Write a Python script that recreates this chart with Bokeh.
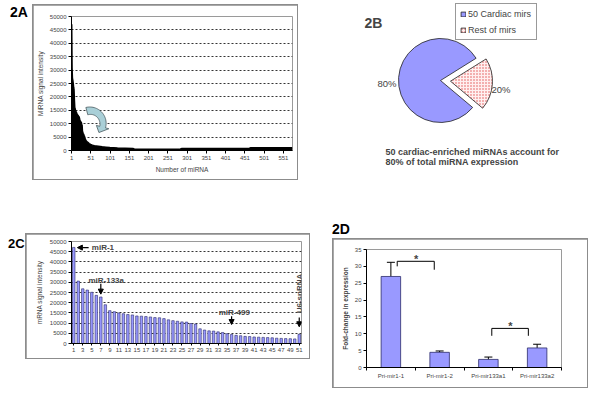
import numpy as np
from bokeh.plotting import figure
from bokeh.layouts import column, row
from bokeh.models import (Range1d, FixedTicker, Div, Spacer, Label, Arrow, NormalHead,
                          Whisker, TeeHead, ColumnDataSource, Legend, LegendItem)
from bokeh.embed import file_html
from bokeh.resources import INLINE

FONT = "Liberation Sans"
BAR_FILL = "#9999FF"
BAR_LINE = "#2B2B6B"

# ---------------- data ----------------
# 2C: top 50 cardiac miRNAs (rank 1..50) + U6-snRNA (51)
c_rank = list(range(1, 52))
c_signal = [47100, 30600, 26800, 26200, 25100, 23600, 22800, 19000, 16100, 15600,
            15000, 14600, 14200, 14000, 13500, 13400, 13200, 13000, 12700, 12600,
            12200, 11600, 11200, 10900, 10600, 10500, 9800, 9500, 7200, 6600,
            6200, 6100, 5700, 5400, 4800, 4400, 4000, 3800, 3500, 3400,
            3200, 3100, 3000, 2900, 2800, 2600, 2500, 2400, 2350, 2250, 4500]
c_ticks = list(range(1, 52, 2))

# 2A: all miRNAs ranked (first 50 as in 2C, then the long tail)
a_tail_rank = [55, 60, 70, 80, 90, 100, 120, 140, 160, 166, 280, 286, 460, 466, 574]
a_tail_signal = [2000, 1800, 1600, 1400, 1250, 1100, 950, 850, 750, 420, 420, 700, 700, 1000, 1000]
a_ticks = list(range(1, 552, 50))

# 2B
b_labels = ["50 Cardiac mirs", "Rest of mirs"]
b_share = [80, 20]

# 2D
d_labels = ["Pri-mir1-1", "Pri-mir1-2", "Pri-mir133a1", "Pri-mir133a2"]
d_fold = [27.0, 4.5, 2.4, 5.8]
d_err = [4.2, 0.4, 0.7, 1.1]


def style_axes(p, tick_font="6px"):
    for ax in p.axis:
        ax.axis_line_color = "black"
        ax.major_tick_line_color = "black"
        ax.major_tick_out = 3
        ax.major_tick_in = 0
        ax.minor_tick_line_color = None
        ax.major_label_text_font = FONT
        ax.major_label_text_font_size = tick_font
        ax.major_label_standoff = 2
        ax.axis_label_text_font = FONT
        ax.axis_label_text_font_style = "normal"
        ax.axis_label_text_font_size = "6.5px"
        ax.axis_label_standoff = 3


def boxed(p):
    # 1px grey frame around a chart: the figure sits with a 1px margin on a grey background
    p.margin = (1, 1, 1, 1)
    return column(p, spacing=0, margin=0, styles={"background-color": "#8C8C8C"})


def label_div(txt, w, h, pad_left, pad_top, size=14):
    html = ('<div style="padding-left:%dpx;padding-top:%dpx;font-family:\'Liberation Sans\',Arial;'
            'font-weight:bold;font-size:%dpx;line-height:%dpx;color:black;white-space:nowrap;">%s</div>'
            % (pad_left, pad_top, size, size, txt))
    return Div(text=html, width=w, height=h, margin=0)


# ---------------- 2A ----------------
pA = figure(width=264, height=174, x_range=Range1d(0.5, 574.5), y_range=Range1d(0, 50000),
            output_backend="svg", toolbar_location=None,
            min_border_left=36, min_border_right=5, min_border_top=11, min_border_bottom=29)
a_rank = c_rank[:50] + a_tail_rank
a_signal = c_signal[:50] + a_tail_signal
pA.varea(x=a_rank, y1=0, y2=a_signal, fill_color="black")
pA.line(x=a_rank, y=a_signal, line_color="black", line_width=1.5)
pA.xaxis.ticker = FixedTicker(ticks=a_ticks)
pA.yaxis.ticker = FixedTicker(ticks=list(range(0, 50001, 5000)))
pA.xaxis.axis_label = "Number of miRNA"
pA.yaxis.axis_label = "MiRNA signal intensity"
style_axes(pA)
pA.xgrid.visible = False
pA.ygrid.grid_line_color = "black"
pA.ygrid.grid_line_dash = "2 2"
pA.ygrid.grid_line_width = 0.8
pA.outline_line_color = "#9A9A9A"

# curved decorative arrow (pixel geometry converted to data units)
sx = (574.5 - 0.5) / 223.0
sy = 50000 / 134.0
acx, acy = 49.0, 10000.0
r0 = 13.0
th = np.radians(np.linspace(105, -15, 30))
hw = np.linspace(3.8, 3.0, 30)
outer_x = (r0 + hw) * np.cos(th)
outer_y = (r0 + hw) * np.sin(th)
inner_x = (r0 - hw) * np.cos(th)
inner_y = (r0 - hw) * np.sin(th)
tb = np.radians(-15)
tt = np.radians(-45)
head_x = [(r0 + 6.5) * np.cos(tb), (r0 - 0.5) * np.cos(tt), (r0 - 6.5) * np.cos(tb)]
head_y = [(r0 + 6.5) * np.sin(tb), (r0 - 0.5) * np.sin(tt), (r0 - 6.5) * np.sin(tb)]
px_ = np.concatenate([outer_x, head_x, inner_x[::-1]])
py_ = np.concatenate([outer_y, head_y, inner_y[::-1]])
pA.patch(x=acx + px_ * sx, y=acy + py_ * sy, fill_color="#A9CFD7", line_color="#4A5A60", line_width=0.8)

# ---------------- 2B ----------------
pB = figure(width=286, height=192, x_range=Range1d(0, 286), y_range=Range1d(0, 192),
            output_backend="svg", toolbar_location=None, x_axis_type=None, y_axis_type=None,
            min_border=0, margin=0)
pB.grid.visible = False
pB.outline_line_color = None
total = float(sum(b_share))
small = b_share[1] / total * 2 * np.pi
rot = np.radians(-4)
cx, cy, rad, explode = 142.0, 112.0, 42.0, 10.0
r_big = pB.wedge(x=[cx], y=[cy], radius=rad, start_angle=rot + small / 2, end_angle=rot + 2 * np.pi - small / 2,
                 fill_color="#9999FF", line_color="#222222", line_width=0.8)
r_small = pB.wedge(x=[cx + explode * np.cos(rot)], y=[cy + explode * np.sin(rot)], radius=rad,
                   start_angle=rot - small / 2, end_angle=rot + small / 2,
                   fill_color="#FFF0F0", hatch_pattern=".", hatch_color="#E05050", hatch_scale=3,
                   hatch_weight=1, line_color="#222222", line_width=0.8)
legend = Legend(items=[LegendItem(label=b_labels[0], renderers=[r_big]),
                       LegendItem(label=b_labels[1], renderers=[r_small])],
                location=(157, 152), orientation="vertical",
                label_text_font=FONT, label_text_font_size="9px",
                glyph_width=6, glyph_height=6, label_height=11, label_width=64,
                label_standoff=2, padding=4, spacing=5, margin=0,
                border_line_color="#333333", border_line_width=1,
                background_fill_color="white", background_fill_alpha=1)
pB.add_layout(legend)
pB.add_layout(Label(x=66, y=170, text="2B", text_font=FONT, text_font_size="14px",
                    text_font_style="bold", text_baseline="alphabetic"))
pB.add_layout(Label(x=cx - rad - 21, y=109, text="%d%%" % b_share[0], text_font=FONT,
                    text_font_size="9.5px", text_baseline="alphabetic"))
pB.add_layout(Label(x=cx + explode + rad - 1, y=103, text="%d%%" % b_share[1], text_font=FONT,
                    text_font_size="9.5px", text_baseline="alphabetic"))
pB.add_layout(Label(x=87, y=41, text="50 cardiac-enriched miRNAs account for", text_font=FONT,
                    text_font_size="9px", text_font_style="bold", text_baseline="alphabetic"))
pB.add_layout(Label(x=87, y=31, text="80% of total miRNA expression", text_font=FONT,
                    text_font_size="9px", text_font_style="bold", text_baseline="alphabetic"))

# ---------------- 2C ----------------
pC = figure(width=283, height=124, x_range=Range1d(0.5, 51.5), y_range=Range1d(0, 50000),
            output_backend="svg", toolbar_location=None,
            min_border_left=45, min_border_right=8, min_border_top=7, min_border_bottom=15)
pC.vbar(x=c_rank, top=c_signal, width=0.55, fill_color=BAR_FILL, line_color=BAR_LINE, line_width=0.6)
pC.xaxis.ticker = FixedTicker(ticks=c_ticks)
pC.yaxis.ticker = FixedTicker(ticks=list(range(0, 50001, 5000)))
pC.yaxis.axis_label = "mRNA signal intensity"
style_axes(pC)
pC.yaxis.axis_label_standoff = 4
pC.xaxis.major_tick_out = 2
pC.xgrid.visible = False
pC.ygrid.grid_line_color = "black"
pC.ygrid.grid_line_dash = "2 2"
pC.ygrid.grid_line_width = 0.8
pC.outline_line_color = "#9A9A9A"


def c_label(x, y, text, **kw):
    pC.add_layout(Label(x=x, y=y, text=text, text_font=FONT, text_font_size="8px",
                        text_font_style="bold", text_baseline="middle", **kw))


def c_arrow(x0, y0, x1, y1):
    pC.add_layout(Arrow(x_start=x0, y_start=y0, x_end=x1, y_end=y1, line_color="black", line_width=1.2,
                        end=NormalHead(size=5, fill_color="black", line_color="black")))


c_label(5.0, 47000, "miR-1", text_align="left")
c_arrow(4.3, 47000, 1.8, 47000)
c_label(8.2, 31000, "miR-133a", text_align="center")
c_arrow(7, 29300, 7, 24200)
c_label(36.6, 15200, "miR-499", text_align="center")
c_arrow(36, 13300, 36, 9300)
c_label(51, 24500, "U6-snRNA", text_align="center", angle=np.pi / 2)
c_arrow(51, 12800, 51, 8200)

# ---------------- 2D ----------------
pD = figure(width=254, height=148, x_range=Range1d(0, 4), y_range=Range1d(0, 35),
            output_backend="svg", toolbar_location=None,
            min_border_left=33, min_border_right=26, min_border_top=10, min_border_bottom=20)
d_x = [i + 0.5 for i in range(len(d_labels))]
srcD = ColumnDataSource(dict(x=d_x, top=d_fold, upper=[v + e for v, e in zip(d_fold, d_err)]))
pD.vbar(x="x", top="top", width=0.4, source=srcD, fill_color=BAR_FILL, line_color=BAR_LINE, line_width=0.8)
pD.add_layout(Whisker(source=srcD, base="x", lower="top", upper="upper", dimension="height",
                      line_color="black", line_width=1,
                      upper_head=TeeHead(size=8, line_color="black", line_width=1), lower_head=None))
pD.xaxis.ticker = FixedTicker(ticks=d_x, minor_ticks=list(range(len(d_labels) + 1)))
pD.xaxis.major_label_overrides = {x: lab for x, lab in zip(d_x, d_labels)}
pD.yaxis.ticker = FixedTicker(ticks=list(range(0, 36, 5)))
pD.yaxis.axis_label = "Fold-change in expression"
style_axes(pD)
pD.yaxis.axis_label_text_font_style = "bold"
pD.xaxis.major_tick_line_color = None
pD.xaxis.minor_tick_line_color = "black"
pD.xaxis.minor_tick_out = 3
pD.xaxis.minor_tick_in = 0
pD.grid.visible = False
pD.outline_line_color = "#9A9A9A"
pD.multi_line(xs=[[0.63, 0.63, 1.39, 1.39], [2.57, 2.57, 3.32, 3.32]],
              ys=[[30.0, 31.5, 31.5, 29.0], [9.4, 11.6, 11.6, 9.4]],
              line_color="black", line_width=1)
for sxp, syp in [(1.02, 32.2), (2.95, 12.4)]:
    pD.add_layout(Label(x=sxp, y=syp, text="*", text_font=FONT, text_font_size="11px",
                        text_font_style="bold", text_align="center", text_baseline="middle"))

# ---------------- layout ----------------
top_row = row(label_div("2A", 32, 192, 10, 5),
              column(Spacer(width=266, height=4, margin=0), boxed(pA), spacing=0, margin=0),
              pB, spacing=0, margin=0)
bottom_row = row(label_div("2C", 25, 196, 8, 45, 13),
                 column(Spacer(width=285, height=41, margin=0), boxed(pC), spacing=0, margin=0),
                 Spacer(width=22, height=10, margin=0),
                 column(label_div("2D", 256, 46, 0, 30), boxed(pD), spacing=0, margin=0),
                 spacing=0, margin=0)
root = column(top_row, bottom_row, spacing=0, margin=0)

open("out.html", "w").write(file_html(root, INLINE, title="Figure 2"))
